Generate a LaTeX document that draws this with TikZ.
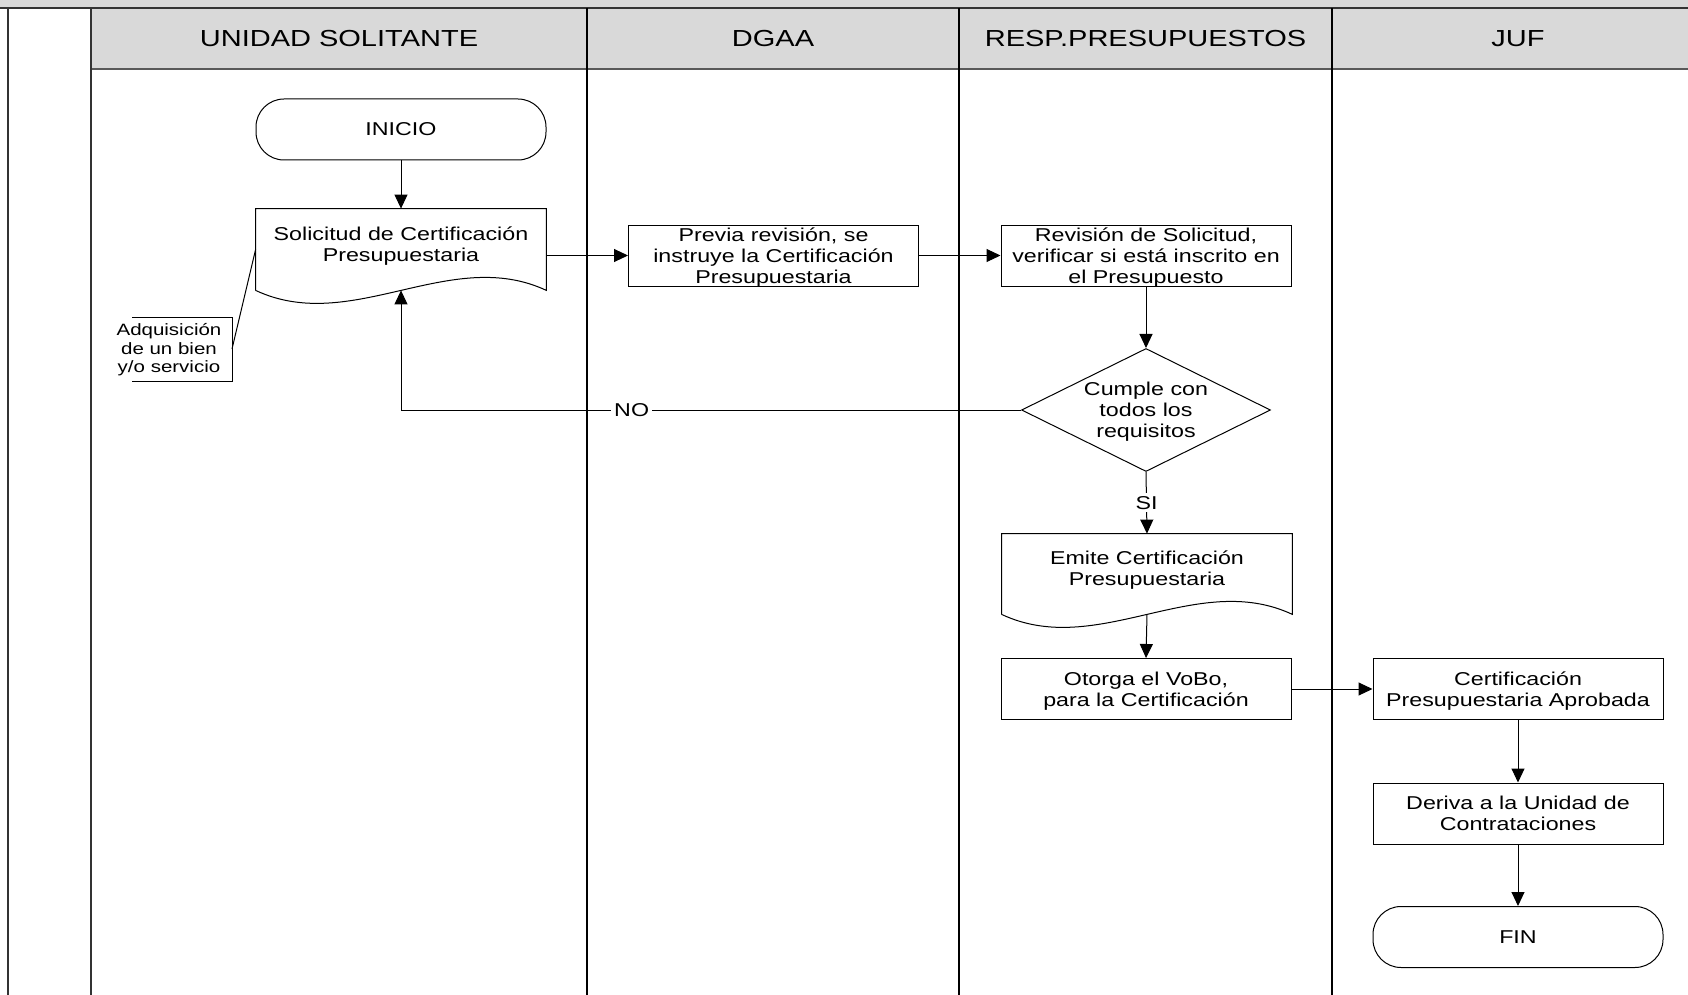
\documentclass[tikz,border=0pt]{standalone}
\usepackage{fontspec}
\setmainfont{Liberation Sans}[FakeStretch=1.25]
\usetikzlibrary{arrows.meta,shapes.geometric,calc}

\definecolor{hdr}{HTML}{D9D9D9}
\definecolor{edgegray}{HTML}{333333}
% fixed baseline spacing, whatever the letters in neighbouring lines
\newcommand{\bodyfont}{\fontsize{9.3}{10.5}\selectfont\lineskiplimit=-20pt}
\newcommand{\annfont}{\fontsize{8.2}{9.2}\selectfont\lineskiplimit=-20pt}
\newcommand{\hdrfont}{\fontsize{11.6}{14}\selectfont}

\begin{document}
\begin{tikzpicture}[x=0.5pt,y=-0.5pt,
  edge/.style={draw=edgegray,line width=1pt},
  divider/.style={draw=black,line width=0.8pt},
  hdrtext/.style={font=\hdrfont,inner sep=0pt},
  outline/.style={draw=black,line width=0.5pt},
  box/.style={outline,minimum width=145pt,minimum height=30.5pt,inner xsep=1pt,inner ysep=0pt,
    align=center,font=\bodyfont,text depth=0pt},
  term/.style={box,rounded corners=14pt},
  docbox/.style={minimum width=145pt,minimum height=40.5pt,inner sep=0pt},
  doctext/.style={align=center,font=\bodyfont,inner sep=0pt,text depth=0pt},
  decision/.style={diamond,outline,aspect=2,inner sep=0pt,minimum width=124.5pt,minimum height=61.5pt,
    align=center,font=\bodyfont,text depth=0pt},
  arr/.style={line width=0.5pt,-{Triangle[length=7pt,width=6.5pt]}},
  lbl/.style={fill=white,inner sep=1.5pt,font=\bodyfont}]
\useasboundingbox (0,0) rectangle (1688,995);

% swimlane frame and header band
\fill[hdr] (0,0) rectangle (1688,8);
\fill[hdr] (91,8) rectangle (1688,69);
\draw[draw=gray!70!black,line width=0.8pt] (91,69) -- (1688,69);
\draw[edge] (0,8) -- (1688,8);
\draw[edge] (8,8) -- (8,995);
\draw[edge] (91,8) -- (91,995);
\foreach \x in {587,959,1332} \draw[divider] (\x,8) -- (\x,995);

\node[hdrtext] (h1) at (339,38.5) {UNIDAD SOLITANTE};
\node[hdrtext] (h2) at (773,38.5) {DGAA};
\node[hdrtext] (h3) at (1145.5,38.5) {RESP.PRESUPUESTOS};
\node[hdrtext] (h4) at (1518,38.5) {JUF};

% process nodes
\node[term] (ini) at (401,129.5) {INICIO};

\node[docbox] (sol) at (401,249.5) {};
\draw[outline] (sol.south west) -- (sol.north west) -- (sol.north east) -- (sol.south east)
  .. controls +(-96,-45) and +(96,45) .. (sol.south west);
\node[doctext] (solt) at (401,244) {Solicitud de Certificación\\Presupuestaria};

\node[font=\annfont,align=center,inner sep=0pt,text depth=0pt] (ann) at (169,348) {Adquisición\\de un bien\\y/o servicio};
\draw[outline] (132,317) -- (232,317) -- (232,381) -- (132,381);
\coordinate (annR) at (232,349);
\draw[outline] (annR) -- (sol.west);

\node[box] (prev) at (773.5,255.5) {Previa revisión, se\\instruye la Certificación\\Presupuestaria};
\node[box] (rev) at (1146,255.5) {Revisión de Solicitud,\\verificar si está inscrito en\\el Presupuesto};
\node[decision] (dec) at (1146,410) {Cumple con\\todos los\\requisitos};

\node[docbox,minimum height=40pt] (emi) at (1147,574) {};
\draw[outline] (emi.south west) -- (emi.north west) -- (emi.north east) -- (emi.south east)
  .. controls +(-96,-45) and +(96,45) .. (emi.south west);
\node[doctext] (emit) at (1147,568) {Emite Certificación\\Presupuestaria};

\node[box] (oto) at (1146,689) {Otorga el VoBo,\\para la Certificación};
\node[box] (cer) at (1518,689) {Certificación\\Presupuestaria Aprobada};
\node[box] (der) at (1518,813.5) {Deriva a la Unidad de\\Contrataciones};
\node[term] (fin) at (1518,937) {FIN};

% connectors
\draw[arr] (ini) -- (sol.north);
\draw[arr] (sol.east |- prev.west) -- (prev.west);
\draw[arr] (prev) -- (rev);
\draw[arr] (rev) -- (dec);
\draw[arr] (dec.west) -| node[pos=0.314,lbl] {NO} (sol.south);
\draw[arr] (dec.south) -- node[lbl] {SI} (emi.north);
\draw[arr] (emi.south) -- (oto.north);
\draw[arr] (oto) -- (cer);
\draw[arr] (cer) -- (der);
\draw[arr] (der) -- (fin);
\end{tikzpicture}
\end{document}
